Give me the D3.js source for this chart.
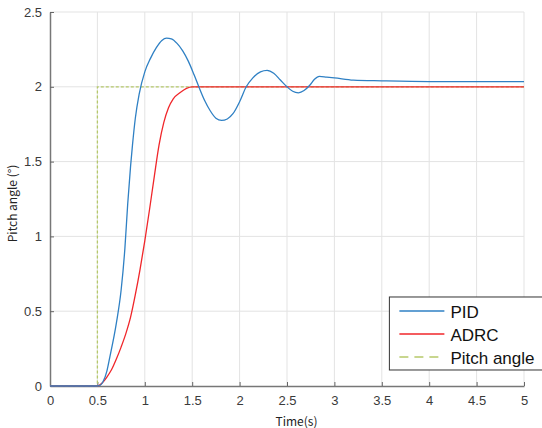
<!DOCTYPE html>
<meta charset="utf-8">
<script src="https://d3js.org/d3.v7.min.js"></script>
<style>
  body { margin: 0; background: #fff; }
  svg { display: block; }
</style>
<div id="chart"></div>
<script>
// values
var pidT = [0, 0.5, 0.53, 0.56, 0.6, 0.63, 0.7, 0.75, 0.79, 0.82, 0.85, 0.87, 0.9, 0.94, 1.0, 1.06, 1.12, 1.18, 1.23, 1.28, 1.34, 1.4, 1.46, 1.52, 1.57, 1.63, 1.69, 1.75, 1.81, 1.87, 1.93, 2.0, 2.07, 2.14, 2.22, 2.29, 2.36, 2.43, 2.5, 2.56, 2.62, 2.68, 2.74, 2.79, 2.84, 2.92, 3.0, 3.2, 3.5, 4.0, 5];
var pidV = [0, 0, 0.005, 0.03, 0.1, 0.19, 0.42, 0.64, 0.92, 1.22, 1.47, 1.61, 1.79, 1.95, 2.1, 2.19, 2.26, 2.31, 2.325, 2.32, 2.29, 2.24, 2.17, 2.08, 2.0, 1.91, 1.84, 1.79, 1.775, 1.785, 1.82, 1.9, 2.0, 2.06, 2.1, 2.11, 2.09, 2.045, 2.0, 1.97, 1.96, 1.975, 2.01, 2.05, 2.07, 2.065, 2.06, 2.045, 2.04, 2.035, 2.035];
var adrcT = [0, 0.5, 0.55, 0.6, 0.65, 0.7, 0.75, 0.8, 0.85, 0.9, 0.95, 1.0, 1.05, 1.1, 1.15, 1.2, 1.25, 1.3, 1.37, 1.44, 1.5, 5];
var adrcV = [0, 0, 0.02, 0.06, 0.11, 0.18, 0.26, 0.35, 0.46, 0.61, 0.78, 0.97, 1.18, 1.4, 1.61, 1.76, 1.86, 1.92, 1.96, 1.99, 2.0, 2.0];
var refT = [0, 0.5, 0.5, 5];
var refV = [0, 0, 2, 2];
var xTicks = [0, 0.5, 1, 1.5, 2, 2.5, 3, 3.5, 4, 4.5, 5];
var yTicks = [0, 0.5, 1, 1.5, 2, 2.5];
var legendNames = ["PID", "ADRC", "Pitch angle"];
var colors = ["#2f80c4", "#f0262a", "#b6c96a"];

var W = 542, H = 428;
var margin = {top: 12, right: 18, bottom: 42, left: 50};
var width = W - margin.left - margin.right,
    height = H - margin.top - margin.bottom;

var svg = d3.select("#chart").append("svg")
    .attr("width", W).attr("height", H)
  .append("g")
    .attr("transform", "translate(" + margin.left + "," + margin.top + ")");

var x = d3.scaleLinear().domain([0, 5]).range([0, width]);
var y = d3.scaleLinear().domain([0, 2.5]).range([height, 0]);

// grid
svg.append("g").selectAll("line").data(xTicks.slice(1)).enter().append("line")
    .attr("x1", d => x(d)).attr("x2", d => x(d))
    .attr("y1", 0).attr("y2", height)
    .style("stroke", "#e3e3e3").style("stroke-width", 1);
svg.append("g").selectAll("line").data(yTicks.slice(1)).enter().append("line")
    .attr("x1", 0).attr("x2", width)
    .attr("y1", d => y(d)).attr("y2", d => y(d))
    .style("stroke", "#e3e3e3").style("stroke-width", 1);

// axes
var xAxis = svg.append("g")
    .attr("transform", "translate(0," + height + ")")
    .call(d3.axisBottom(x).tickValues(xTicks).tickFormat(d3.format("")).tickSizeInner(-4).tickSizeOuter(0).tickPadding(10));
var yAxis = svg.append("g")
    .call(d3.axisLeft(y).tickValues(yTicks).tickFormat(d3.format("")).tickSizeInner(-4).tickSizeOuter(0).tickPadding(8));
[xAxis, yAxis].forEach(function(a) {
  a.select(".domain").style("stroke", "#777").style("stroke-width", 1.5);
  a.selectAll(".tick line").style("stroke", "#666");
  a.selectAll("text").style("font-family", "'Liberation Sans', Arial, sans-serif")
    .style("font-size", "13px").style("fill", "#3a3a3a");
});

// lines
var line = d3.line().curve(d3.curveMonotoneX).x(d => x(d[0])).y(d => y(d[1]));
var series = [
  d3.zip(pidT, pidV),
  d3.zip(adrcT, adrcV),
  d3.zip(refT, refV)
];
svg.append("path").datum(series[2]).attr("d", d3.line().x(d => x(d[0])).y(d => y(d[1])))
    .style("fill", "none").style("stroke", colors[2]).style("stroke-width", 1.3)
    .style("stroke-dasharray", "3,2");
svg.append("path").datum(series[1]).attr("d", line)
    .style("fill", "none").style("stroke", colors[1]).style("stroke-width", 1.3);
svg.append("path").datum(series[0]).attr("d", line)
    .style("fill", "none").style("stroke", colors[0]).style("stroke-width", 1.3);

// axis labels
svg.append("text")
    .attr("x", x(2.6)).attr("y", height + 40)
    .attr("text-anchor", "middle")
    .style("font-family", "'Noto Sans CJK SC', 'Noto Sans', sans-serif")
    .style("font-size", "12px").style("fill", "#222")
    .text("Time(s)");
svg.append("text")
    .attr("transform", "translate(" + (-33) + "," + (y(1.22)) + ") rotate(-90)")
    .attr("text-anchor", "middle")
    .style("font-family", "'Noto Sans CJK SC', 'Noto Sans', sans-serif")
    .style("font-size", "12px").style("fill", "#222")
    .text("Pitch angle (°)");

// legend
var lg = svg.append("g").attr("transform", "translate(" + (x(3.58)) + "," + (y(0.595)) + ")");
lg.append("rect").attr("width", 170).attr("height", 73)
    .style("fill", "#fff").style("stroke", "#333").style("stroke-width", 1);
legendNames.forEach(function(name, i) {
  var base = 21 + i * 23;
  lg.append("line").attr("x1", 10).attr("x2", 55).attr("y1", base - 7).attr("y2", base - 7)
    .style("stroke", colors[i]).style("stroke-width", 1.3)
    .style("stroke-dasharray", i == 2 ? "9,6" : null);
  lg.append("text").attr("x", 61).attr("y", base)
    .style("font-family", "'Liberation Sans', Arial, sans-serif")
    .style("font-size", "17px").style("fill", "#111")
    .text(name);
});
</script>
